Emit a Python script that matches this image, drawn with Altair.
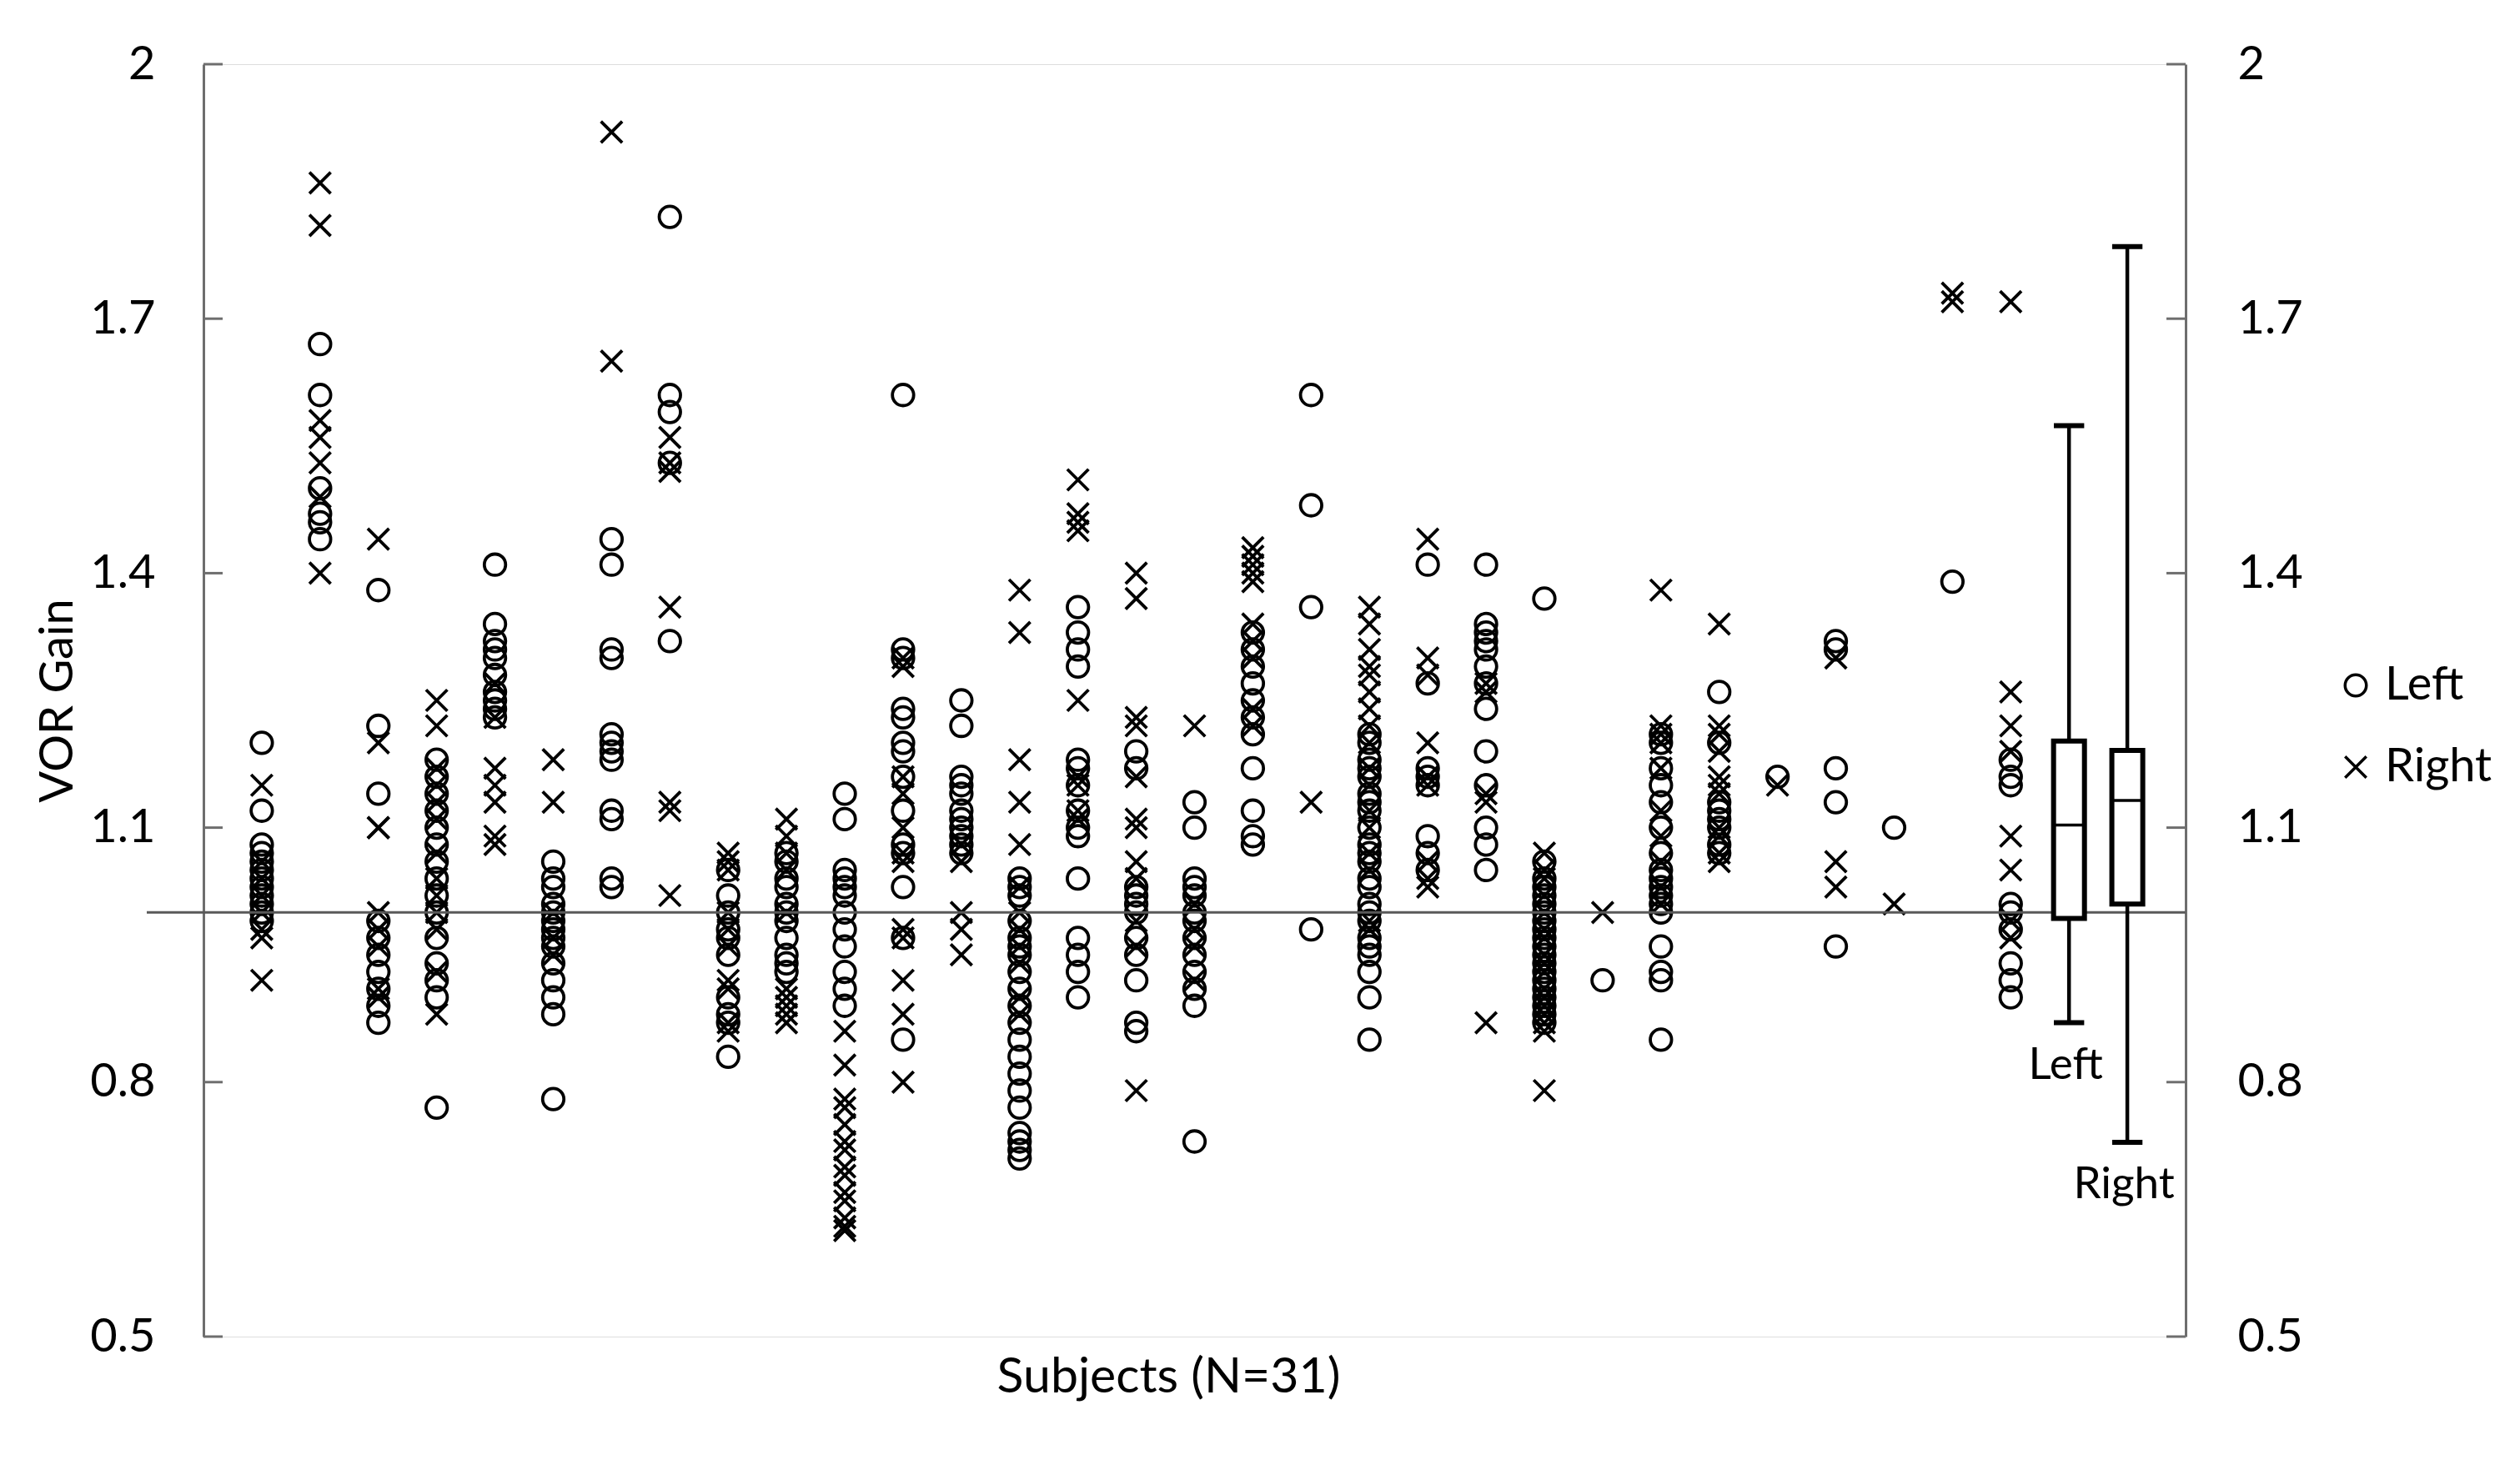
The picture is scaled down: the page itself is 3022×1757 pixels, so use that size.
import altair as alt
import pandas as pd

# ---------------- data ----------------
subjects = list(range(1, 32))

left_gain = [
    [1.20, 1.12, 1.08, 1.07, 1.06, 1.05, 1.04, 1.03, 1.02, 1.01, 1.00, 0.99],
    [1.67, 1.61, 1.50, 1.47, 1.46, 1.44],
    [1.38, 1.22, 1.14, 0.99, 0.97, 0.95, 0.93, 0.91, 0.89, 0.87],
    [1.18, 1.16, 1.14, 1.12, 1.10, 1.08, 1.06, 1.04, 1.02, 1.00, 0.97, 0.94, 0.92, 0.90, 0.77],
    [1.41, 1.34, 1.32, 1.31, 1.30, 1.28, 1.26, 1.25, 1.24, 1.23],
    [1.06, 1.04, 1.03, 1.01, 1.00, 0.99, 0.98, 0.97, 0.96, 0.94, 0.92, 0.90, 0.88, 0.78],
    [1.44, 1.41, 1.31, 1.30, 1.21, 1.20, 1.19, 1.18, 1.12, 1.11, 1.04, 1.03],
    [1.82, 1.61, 1.59, 1.53, 1.32],
    [1.05, 1.02, 1.00, 0.98, 0.97, 0.95, 0.90, 0.88, 0.87, 0.83],
    [1.07, 1.06, 1.04, 1.03, 1.01, 1.00, 0.99, 0.97, 0.95, 0.94, 0.93],
    [1.14, 1.11, 1.05, 1.04, 1.03, 1.02, 1.00, 0.98, 0.96, 0.93, 0.91, 0.89],
    [1.61, 1.31, 1.30, 1.24, 1.23, 1.20, 1.19, 1.16, 1.12, 1.08, 1.07, 1.03, 0.97, 0.85],
    [1.25, 1.22, 1.16, 1.15, 1.14, 1.12, 1.11, 1.10, 1.09, 1.08, 1.07],
    [1.04, 1.03, 1.02, 0.99, 0.97, 0.96, 0.95, 0.93, 0.91, 0.89, 0.87, 0.85, 0.83, 0.81,
     0.79, 0.77, 0.74, 0.73, 0.72, 0.71],
    [1.36, 1.33, 1.31, 1.29, 1.18, 1.17, 1.15, 1.12, 1.10, 1.09, 1.04, 0.97, 0.95, 0.93, 0.90],
    [1.19, 1.17, 1.03, 1.02, 1.01, 1.00, 0.97, 0.95, 0.92, 0.87, 0.86],
    [1.13, 1.10, 1.04, 1.03, 1.02, 1.00, 0.99, 0.97, 0.95, 0.93, 0.91, 0.89, 0.73],
    [1.33, 1.31, 1.29, 1.27, 1.25, 1.23, 1.21, 1.17, 1.12, 1.09, 1.08],
    [1.61, 1.48, 1.36, 0.98],
    [1.21, 1.20, 1.18, 1.17, 1.16, 1.14, 1.13, 1.12, 1.10, 1.08, 1.07, 1.06, 1.04, 1.03,
     1.01, 1.00, 0.99, 0.97, 0.96, 0.95, 0.93, 0.90, 0.85],
    [1.41, 1.27, 1.17, 1.16, 1.15, 1.09, 1.07, 1.05],
    [1.41, 1.34, 1.33, 1.32, 1.31, 1.29, 1.27, 1.24, 1.19, 1.15, 1.10, 1.08, 1.05],
    [1.37, 1.06, 1.04, 1.03, 1.02, 1.01, 1.00, 0.99, 0.98, 0.97, 0.96, 0.95, 0.94, 0.93,
     0.92, 0.91, 0.90, 0.89, 0.88, 0.87],
    [0.92],
    [1.21, 1.20, 1.17, 1.15, 1.13, 1.10, 1.07, 1.05, 1.04, 1.03, 1.02, 1.01, 1.00, 0.96,
     0.93, 0.92, 0.85],
    [1.26, 1.20, 1.13, 1.12, 1.11, 1.10, 1.08, 1.07],
    [1.16],
    [1.32, 1.31, 1.17, 1.13, 0.96],
    [1.10],
    [1.39],
    [1.18, 1.16, 1.15, 1.01, 1.00, 0.98, 0.94, 0.92, 0.90],
]

right_gain = [
    [1.15, 1.06, 1.04, 1.02, 1.00, 0.98, 0.97, 0.92],
    [1.86, 1.81, 1.58, 1.56, 1.53, 1.49, 1.40],
    [1.44, 1.20, 1.10, 1.10, 1.00, 0.98, 0.96, 0.91, 0.90],
    [1.25, 1.22, 1.17, 1.15, 1.13, 1.11, 1.07, 1.04, 1.02, 1.00, 0.98, 0.93, 0.88],
    [1.27, 1.23, 1.17, 1.15, 1.13, 1.09, 1.08],
    [1.18, 1.13, 1.00, 0.97, 0.95],
    [1.92, 1.65],
    [1.56, 1.53, 1.52, 1.36, 1.13, 1.12, 1.02],
    [1.07, 1.06, 1.05, 1.00, 0.98, 0.96, 0.92, 0.91, 0.87, 0.86],
    [1.11, 1.09, 1.07, 1.05, 1.00, 0.91, 0.90, 0.89, 0.88, 0.87],
    [0.86, 0.82, 0.78, 0.77, 0.75, 0.73, 0.72, 0.70, 0.69, 0.67, 0.66, 0.64, 0.63, 0.625],
    [1.30, 1.29, 1.16, 1.14, 1.10, 1.07, 1.06, 0.98, 0.97, 0.92, 0.88, 0.80],
    [1.08, 1.06, 1.00, 0.98, 0.95],
    [1.38, 1.33, 1.18, 1.13, 1.08, 1.03, 1.00, 0.98, 0.96, 0.94, 0.90, 0.88],
    [1.51, 1.47, 1.46, 1.45, 1.25, 1.16, 1.15, 1.12, 1.11],
    [1.40, 1.37, 1.23, 1.22, 1.16, 1.11, 1.10, 1.06, 1.04, 0.99, 0.96, 0.79],
    [1.22, 1.01, 0.98, 0.96, 0.92],
    [1.43, 1.42, 1.41, 1.40, 1.39, 1.34, 1.32, 1.30, 1.24, 1.22],
    [1.13],
    [1.36, 1.34, 1.31, 1.29, 1.28, 1.26, 1.24, 1.22, 1.20, 1.17, 1.15, 1.12, 1.10, 1.07,
     1.05, 0.99, 0.98],
    [1.44, 1.30, 1.28, 1.20, 1.16, 1.15, 1.06, 1.04, 1.03],
    [1.27, 1.26, 1.14, 1.13, 0.87],
    [1.07, 1.05, 1.04, 1.02, 1.00, 0.98, 0.97, 0.95, 0.94, 0.93, 0.91, 0.90, 0.89, 0.88,
     0.87, 0.86, 0.79],
    [1.00],
    [1.38, 1.22, 1.21, 1.20, 1.17, 1.12, 1.09, 1.06, 1.03, 1.01],
    [1.34, 1.22, 1.21, 1.19, 1.16, 1.15, 1.14, 1.10, 1.09, 1.07, 1.06],
    [1.15],
    [1.30, 1.06, 1.03],
    [1.01],
    [1.73, 1.72],
    [1.72, 1.26, 1.22, 1.19, 1.09, 1.05, 0.99, 0.97],
]

# summary box plots
box_side = ["Left", "Right"]
box_pos = [32, 33]
box_low = [0.870, 0.729]
box_q1 = [0.993, 1.010]
box_median = [1.103, 1.132]
box_q3 = [1.202, 1.191]
box_high = [1.574, 1.785]

tick_values = [0.5, 0.8, 1.1, 1.4, 1.7, 2.0]
reference_gain = 1.0

# ---------------- tables ----------------
rows = []
for s, vals in zip(subjects, left_gain):
    for v in vals:
        rows.append({"subject": s, "side": "Left", "gain": v})
for s, vals in zip(subjects, right_gain):
    for v in vals:
        rows.append({"subject": s, "side": "Right", "gain": v})
points_df = pd.DataFrame(rows)

box_df = pd.DataFrame({
    "side": box_side, "pos": box_pos, "low": box_low, "q1": box_q1,
    "median": box_median, "q3": box_q3, "high": box_high,
})
tick_df = pd.DataFrame({"value": tick_values})

# ---------------- styling ----------------
W, H = 2377, 1526
FONT = "Lato"
AXIS_GRAY = "#6e6e6e"
X_PATH = "M-1,-1L1,1M-1,1L1,-1"

x_scale = alt.Scale(domain=[0, 34], nice=False, zero=False)
y_scale = alt.Scale(domain=[0.5, 2.0], nice=False, zero=False)
label_expr = "datum.value == 2 ? '2' : format(datum.value, '.1f')"

x_axis = alt.Axis(
    title="Subjects (N=31)", labels=False, ticks=False, domain=False, grid=False,
    titleFont=FONT, titleFontSize=59, titleFontWeight="normal", titleColor="black",
    titleX=1157, titleY=48, titleBaseline="middle", titleAlign="center",
)

left_axis = alt.Axis(
    orient="left", values=tick_values, labelExpr=label_expr, ticks=False, tickSize=0,
    grid=False, domainColor=AXIS_GRAY, domainWidth=3, labelFont=FONT, labelFontSize=56,
    labelColor="black", labelPadding=58, title="VOR Gain", titleFont=FONT,
    titleFontSize=56, titleFontWeight="normal", titleColor="black",
    titleX=-175, titleY=763, titleBaseline="middle",
)
right_axis = alt.Axis(
    orient="right", values=tick_values, labelExpr=label_expr, ticks=False, tickSize=0,
    grid=False, domainColor=AXIS_GRAY, domainWidth=3, labelFont=FONT, labelFontSize=56,
    labelColor="black", labelPadding=62, labelAlign="left", title=None,
)

# reference line at gain 1.0, extending a little left of the axis
ref_line = alt.Chart(pd.DataFrame({"g": [reference_gain]})).mark_rule(
    color="#595959", strokeWidth=3
).encode(
    y=alt.Y("g:Q", scale=y_scale, axis=None),
    x=alt.value(-68), x2=alt.value(W),
)

# inward ticks (left and right)
left_ticks = alt.Chart(tick_df).mark_rule(color=AXIS_GRAY, strokeWidth=3).encode(
    y=alt.Y("value:Q", scale=y_scale, axis=left_axis),
    x=alt.value(0), x2=alt.value(23),
)
right_ticks = alt.Chart(tick_df).mark_rule(color=AXIS_GRAY, strokeWidth=3).encode(
    y=alt.Y("value:Q", scale=y_scale, axis=right_axis),
    x=alt.value(W - 23), x2=alt.value(W),
)

points = alt.Chart(points_df).mark_point(
    filled=False, size=650, strokeWidth=3.8, color="black", opacity=1
).encode(
    x=alt.X("subject:Q", scale=x_scale, axis=x_axis),
    y=alt.Y("gain:Q", scale=y_scale, axis=None),
    shape=alt.Shape(
        "side:N",
        scale=alt.Scale(domain=["Left", "Right"], range=["circle", X_PATH]),
        legend=alt.Legend(
            title=None, orient="none", legendX=2553, legendY=717, padding=0,
            labelFont=FONT, labelFontSize=56, labelColor="black", labelOffset=7,
            rowPadding=42, symbolSize=650, symbolStrokeWidth=3.5,
            symbolStrokeColor="black", symbolFillColor="transparent",
        ),
    ),
)

box_base = alt.Chart(box_df).transform_calculate(
    xl="datum.pos - 0.265", xr="datum.pos + 0.265",
    cl="datum.pos - 0.26", cr="datum.pos + 0.26",
)

whisker = box_base.mark_rule(color="black", strokeWidth=4.5).encode(
    x=alt.X("pos:Q", scale=x_scale, axis=None),
    y=alt.Y("low:Q", scale=y_scale, axis=None),
    y2="high:Q",
)
cap_low = box_base.mark_rule(color="black", strokeWidth=6).encode(
    x=alt.X("cl:Q", scale=x_scale, axis=None), x2="cr:Q",
    y=alt.Y("low:Q", scale=y_scale, axis=None),
)
cap_high = box_base.mark_rule(color="black", strokeWidth=6).encode(
    x=alt.X("cl:Q", scale=x_scale, axis=None), x2="cr:Q",
    y=alt.Y("high:Q", scale=y_scale, axis=None),
)
box = box_base.mark_rect(fill="white", stroke="black", strokeWidth=6).encode(
    x=alt.X("xl:Q", scale=x_scale, axis=None), x2="xr:Q",
    y=alt.Y("q1:Q", scale=y_scale, axis=None), y2="q3:Q",
)
median = box_base.mark_rule(color="black", strokeWidth=3.5).encode(
    x=alt.X("xl:Q", scale=x_scale, axis=None), x2="xr:Q",
    y=alt.Y("median:Q", scale=y_scale, axis=None),
)
box_labels = box_base.mark_text(
    font=FONT, fontSize=53, color="black", baseline="middle", align="center", dy=51, dx=-4
).encode(
    x=alt.X("pos:Q", scale=x_scale, axis=None),
    y=alt.Y("low:Q", scale=y_scale, axis=None),
    text="side:N",
)

chart = alt.layer(
    points, ref_line, left_ticks, right_ticks,
    whisker, box, median, cap_low, cap_high, box_labels,
).resolve_axis(
    x="independent", y="independent"
).properties(
    width=W, height=H,
    autosize=alt.AutoSizeParams(type="none"),
    padding={"left": 236, "top": 69, "right": 380, "bottom": 130},
).configure_view(
    stroke=None
).configure(
    font=FONT
)

chart.save("out.html", embed_options={"renderer": "svg", "actions": False})
